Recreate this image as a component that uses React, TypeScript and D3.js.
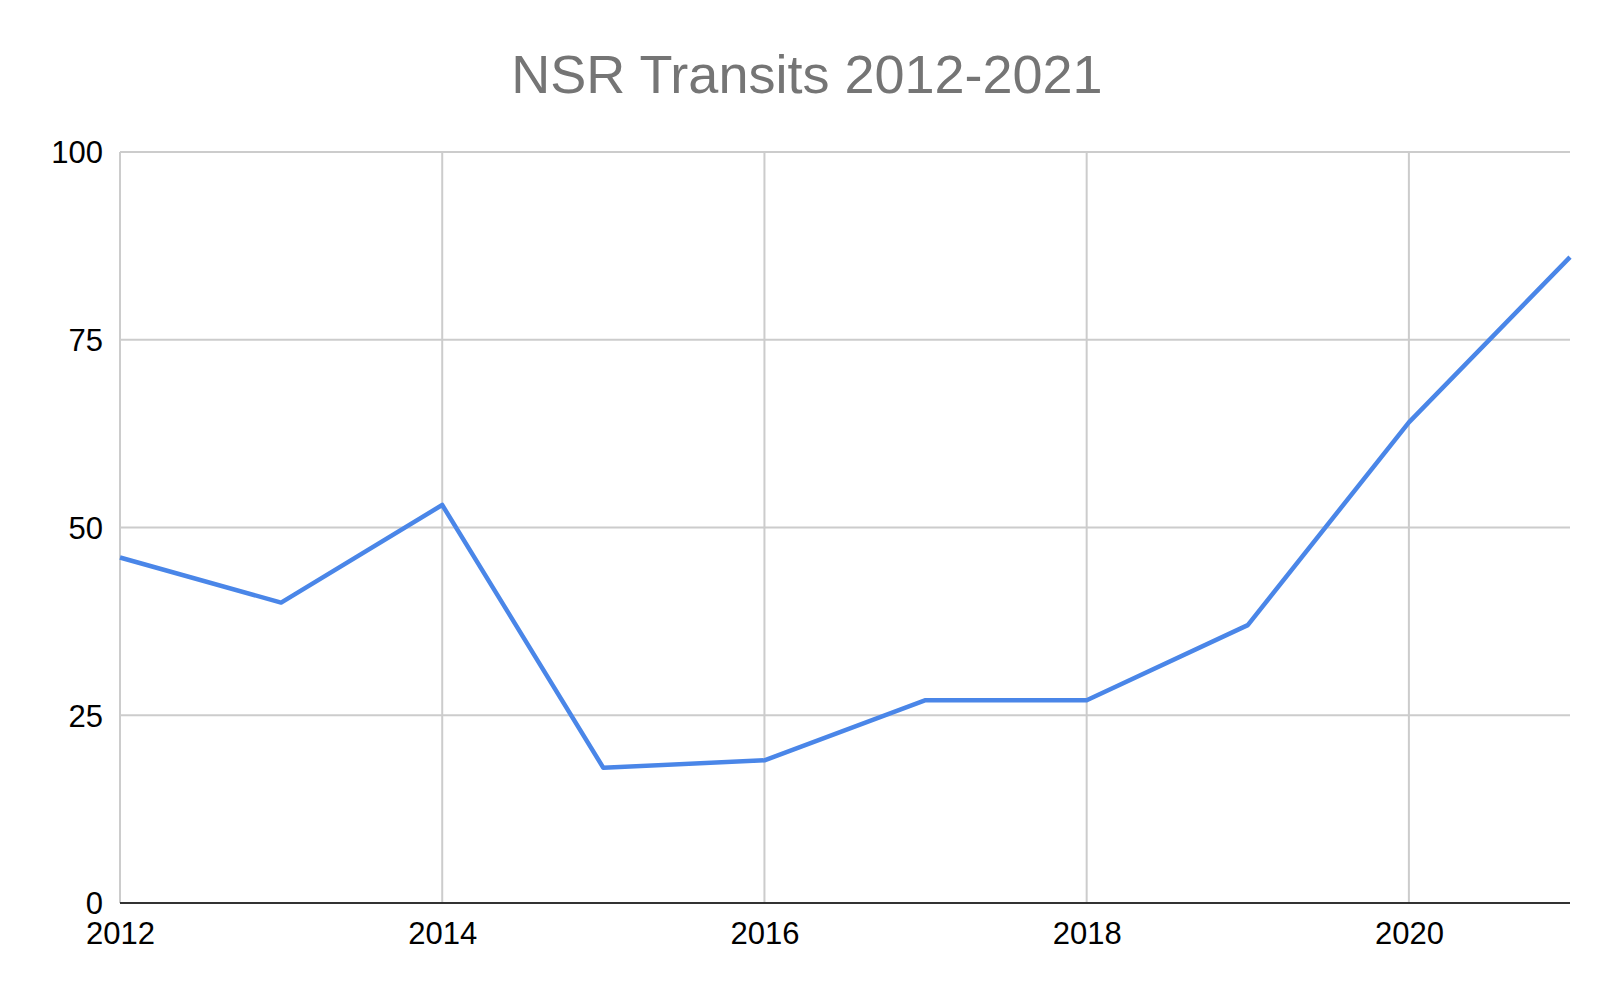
import { useRef, useEffect } from 'react';
import * as d3 from 'd3';

const WIDTH = 1618;
const HEIGHT = 998;
const MARGIN = { top: 152, right: 48, bottom: 95, left: 120 };

const TITLE = 'NSR Transits 2012-2021';
const YEARS = [2012, 2013, 2014, 2015, 2016, 2017, 2018, 2019, 2020, 2021];
const TRANSITS = [46, 40, 53, 18, 19, 27, 27, 37, 64, 86];
const X_TICKS = [2012, 2014, 2016, 2018, 2020];
const Y_TICKS = [0, 25, 50, 75, 100];

const LINE_COLOR = '#4a86e8';
const GRID_COLOR = '#cccccc';
const AXIS_COLOR = '#333333';
const FONT = '"Liberation Sans", Arial, sans-serif';

export default function App() {
  const svgRef = useRef<SVGSVGElement>(null);

  useEffect(() => {
    document.body.style.margin = '0';
    if (!svgRef.current) return;

    const innerWidth = WIDTH - MARGIN.left - MARGIN.right;
    const innerHeight = HEIGHT - MARGIN.top - MARGIN.bottom;

    const xScale = d3
      .scaleLinear()
      .domain([YEARS[0], YEARS[YEARS.length - 1]])
      .range([0, innerWidth]);

    const yScale = d3.scaleLinear().domain([0, 100]).range([innerHeight, 0]);

    const svg = d3.select(svgRef.current);
    svg.selectAll('*').remove();

    svg
      .append('rect')
      .attr('width', WIDTH)
      .attr('height', HEIGHT)
      .attr('fill', '#ffffff');

    // title, centred on the whole chart
    svg
      .append('text')
      .attr('x', WIDTH / 2 - 2)
      .attr('y', 93)
      .attr('text-anchor', 'middle')
      .attr('fill', '#757575')
      .attr('font-size', '54px')
      .attr('font-family', FONT)
      .text(TITLE);

    const g = svg
      .append('g')
      .attr('transform', `translate(${MARGIN.left},${MARGIN.top})`);

    // horizontal grid
    g.append('g')
      .selectAll('line')
      .data(Y_TICKS.filter((d) => d !== 0))
      .join('line')
      .attr('x1', 0)
      .attr('x2', innerWidth)
      .attr('y1', (d) => yScale(d))
      .attr('y2', (d) => yScale(d))
      .attr('stroke', GRID_COLOR)
      .attr('stroke-width', 2);

    // vertical grid
    g.append('g')
      .selectAll('line')
      .data(X_TICKS)
      .join('line')
      .attr('x1', (d) => xScale(d))
      .attr('x2', (d) => xScale(d))
      .attr('y1', 0)
      .attr('y2', innerHeight)
      .attr('stroke', GRID_COLOR)
      .attr('stroke-width', 2);

    // y axis labels
    g.append('g')
      .call(d3.axisLeft(yScale).tickValues(Y_TICKS).tickSize(0).tickPadding(17))
      .call((sel) => {
        sel.select('.domain').remove();
        sel
          .selectAll('.tick text')
          .attr('fill', '#000000')
          .attr('font-size', '31px')
          .attr('font-family', FONT)
          .attr('dy', '0.35em');
      });

    // x axis labels
    g.append('g')
      .attr('transform', `translate(0,${innerHeight})`)
      .call(
        d3
          .axisBottom(xScale)
          .tickValues(X_TICKS)
          .tickSize(0)
          .tickPadding(19)
          .tickFormat((d) => String(d.valueOf())),
      )
      .call((sel) => {
        sel.select('.domain').remove();
        sel
          .selectAll('.tick text')
          .attr('fill', '#000000')
          .attr('font-size', '31px')
          .attr('font-family', FONT);
      });

    // baseline
    g.append('line')
      .attr('x1', 0)
      .attr('x2', innerWidth)
      .attr('y1', yScale(0))
      .attr('y2', yScale(0))
      .attr('stroke', AXIS_COLOR)
      .attr('stroke-width', 2);

    // series
    const line = d3
      .line<number>()
      .x((_, i) => xScale(YEARS[i]))
      .y((d) => yScale(d));

    g.append('path')
      .datum(TRANSITS)
      .attr('fill', 'none')
      .attr('stroke', LINE_COLOR)
      .attr('stroke-width', 4.5)
      .attr('stroke-linejoin', 'round')
      .attr('d', line);
  }, []);

  return (
    <svg
      ref={svgRef}
      width={WIDTH}
      height={HEIGHT}
      style={{ display: 'block' }}
    />
  );
}
